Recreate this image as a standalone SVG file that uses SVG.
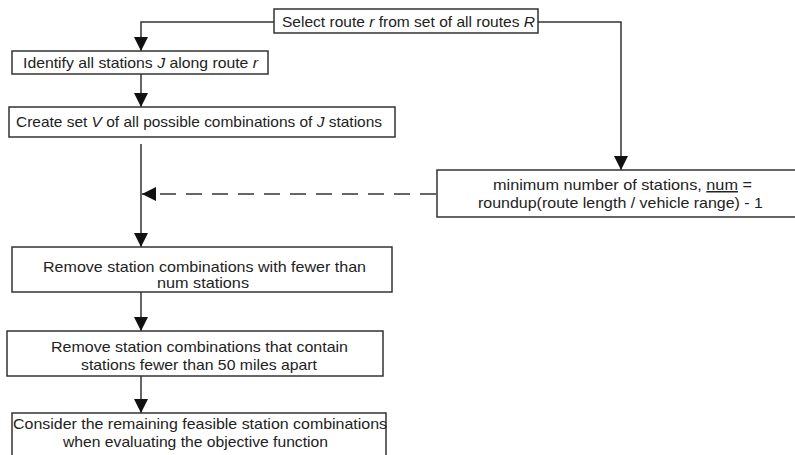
<svg xmlns="http://www.w3.org/2000/svg" width="795" height="455" viewBox="0 0 795 455">
<style>
.box{fill:#fff;stroke:#333;stroke-width:1.5}
.t{font-family:"Liberation Sans",Arial,sans-serif;font-size:15px;fill:#222}
.c{fill:none;stroke:#333;stroke-width:1.5}
.d{stroke-dasharray:16 10}
</style>
<defs>
<marker id="ah" markerUnits="userSpaceOnUse" markerWidth="14" markerHeight="14" viewBox="0 0 10 10" refX="10" refY="5" orient="auto">
<path d="M0,0 L10,5 L0,10 z" fill="#111"/>
</marker>
</defs>
<rect width="795" height="455" fill="#fff"/>
<g id="connectors">
<polyline class="c" points="274,22 141,22 141,51" marker-end="url(#ah)"/>
<polyline class="c" points="538,22 621,22 621,170" marker-end="url(#ah)"/>
<line class="c" x1="141" y1="74" x2="141" y2="107" marker-end="url(#ah)"/>
<line class="c" x1="141" y1="144" x2="141" y2="247" marker-end="url(#ah)"/>
<line class="c d" x1="436" y1="194" x2="142" y2="194" marker-end="url(#ah)"/>
<line class="c" x1="141" y1="292" x2="141" y2="331" marker-end="url(#ah)"/>
<line class="c" x1="141" y1="376" x2="141" y2="413" marker-end="url(#ah)"/>
</g>
<g id="select">
<rect class="box" x="274" y="9" width="264" height="24"/>
<text class="t" x="282" y="27" textLength="253" lengthAdjust="spacingAndGlyphs">Select route <tspan font-style="italic">r</tspan> from set of all routes <tspan font-style="italic">R</tspan></text>
</g>
<g id="identify">
<rect class="box" x="12" y="51" width="256" height="23"/>
<text class="t" x="23" y="68" textLength="235" lengthAdjust="spacingAndGlyphs">Identify all stations <tspan font-style="italic">J</tspan> along route <tspan font-style="italic">r</tspan></text>
</g>
<g id="create">
<rect class="box" x="9" y="107" width="386" height="30"/>
<text class="t" x="16" y="127" textLength="366" lengthAdjust="spacingAndGlyphs">Create set <tspan font-style="italic">V</tspan> of all possible combinations of <tspan font-style="italic">J</tspan> stations</text>
</g>
<g id="minimum">
<rect class="box" x="437" y="170" width="362" height="47"/>
<text class="t" x="493" y="190" textLength="259" lengthAdjust="spacingAndGlyphs">minimum number of stations, <tspan text-decoration="underline">num</tspan> =</text>
<text class="t" x="478" y="208" textLength="285" lengthAdjust="spacingAndGlyphs">roundup(route length / vehicle range) - 1</text>
</g>
<g id="remove1">
<rect class="box" x="12" y="247" width="380" height="45"/>
<text class="t" x="43" y="272" textLength="323" lengthAdjust="spacingAndGlyphs">Remove station combinations with fewer than</text>
<text class="t" x="157" y="288" textLength="92" lengthAdjust="spacingAndGlyphs">num stations</text>
</g>
<g id="remove2">
<rect class="box" x="7" y="331" width="376" height="45"/>
<text class="t" x="51" y="352" textLength="297" lengthAdjust="spacingAndGlyphs">Remove station combinations that contain</text>
<text class="t" x="81" y="370" textLength="236" lengthAdjust="spacingAndGlyphs">stations fewer than 50 miles apart</text>
</g>
<g id="consider">
<rect class="box" x="12" y="413" width="374" height="50"/>
<text class="t" x="13" y="429" textLength="374" lengthAdjust="spacingAndGlyphs">Consider the remaining feasible station combinations</text>
<text class="t" x="63" y="447" textLength="265" lengthAdjust="spacingAndGlyphs">when evaluating the objective function</text>
</g>
</svg>
